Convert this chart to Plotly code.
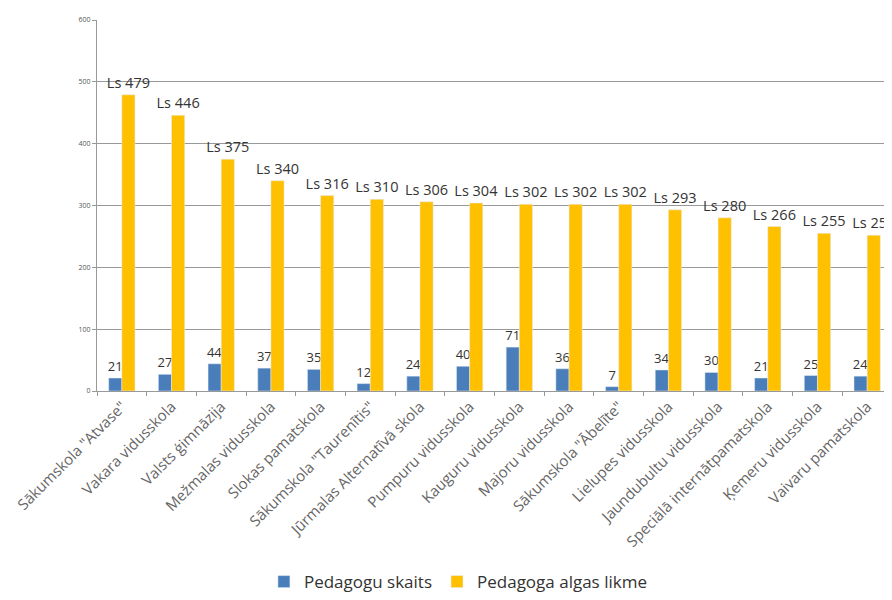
import plotly.graph_objects as go

categories = [
    'Sākumskola "Atvase"', "Vakara vidusskola", "Valsts ģimnāzija", "Mežmalas vidusskola",
    "Slokas pamatskola", 'Sākumskola "Taurenītis"', "Jūrmalas Alternatīvā skola",
    "Pumpuru vidusskola", "Kauguru vidusskola", "Majoru vidusskola", 'Sākumskola "Ābelīte"',
    "Lielupes vidusskola", "Jaundubultu vidusskola", "Speciālā internātpamatskola",
    "Ķemeru vidusskola", "Vaivaru pamatskola",
]
teachers = [21, 27, 44, 37, 35, 12, 24, 40, 71, 36, 7, 34, 30, 21, 25, 24]
salary = [479, 446, 375, 340, 316, 310, 306, 304, 302, 302, 302, 293, 280, 266, 255, 252]
yticks = [0, 100, 200, 300, 400, 500, 600]

fig = go.Figure()
fig.add_trace(go.Bar(
    x=categories, y=teachers, name="Pedagogu skaits",
    marker_color="#4a7ebb", text=[str(v) for v in teachers],
    textposition="outside", constraintext="none", cliponaxis=False,
    textfont=dict(size=13, color="#333333"),
))
fig.add_trace(go.Bar(
    x=categories, y=salary, name="Pedagoga algas likme",
    marker_color="#ffc000", text=[f"Ls {v}" for v in salary],
    textposition="outside", constraintext="none",
    textfont=dict(size=14.5, color="#333333"),
))
fig.update_layout(
    width=884, height=592,
    margin=dict(l=89, r=0, t=12, b=209, autoexpand=False),
    paper_bgcolor="white", plot_bgcolor="white",
    barmode="group", bargap=0.47, bargroupgap=0,
    font=dict(family="Open Sans, Liberation Sans, sans-serif", color="#555555"),
    showlegend=True,
    legend=dict(orientation="h", x=0.454, xanchor="center", y=-0.515, yanchor="middle",
                font=dict(size=17, color="#333333")),
)
fig.update_xaxes(
    tickangle=-45, tickfont=dict(size=15, color="#666666"),
    showline=True, linecolor="#999999", ticks="outside", tickson="boundaries",
    ticklen=4, tickcolor="#999999", showgrid=False,
)
fig.update_yaxes(
    range=[0, 600], tickvals=yticks, tickfont=dict(size=7, color="#555555"),
    showgrid=True, gridcolor="#999999", gridwidth=1,
    showline=True, linecolor="#999999", ticks="outside", ticklen=4, tickcolor="#999999",
    zeroline=False,
)
fig.write_html("out.html")
